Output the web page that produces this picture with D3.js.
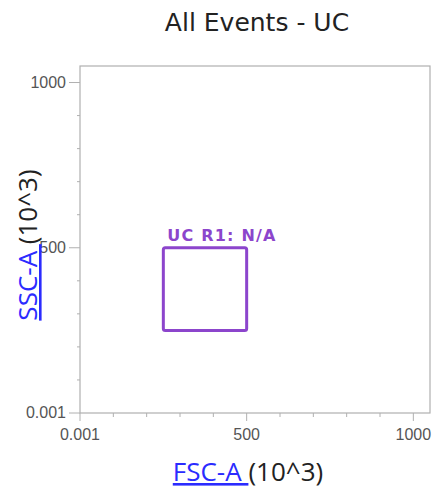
<!DOCTYPE html>
<html><head><meta charset="utf-8">
<script src="https://cdn.jsdelivr.net/npm/d3@7"></script>
<style>body{margin:0;background:#fff}</style>
</head><body>
<script>
const title = "All Events - UC";
const xDomain = [0, 1050];
const yDomain = [0, 1050];
const majorTicks = [0, 500, 1000];
const majorLabels = ["0.001", "500", "1000"];
const minorTicks = [100, 200, 300, 400, 600, 700, 800, 900];
const gateName = "UC R1: N/A";
const gateX = [250, 500];
const gateY = [250, 500];
const xLabel = "FSC-A";
const yLabel = "SSC-A";
const unitLabel = "(10^3)";

const W = 441, H = 497;
const m = {l: 80, r: 11, t: 66, b: 84};
const svg = d3.select("body").append("svg").attr("width", W).attr("height", H);
const x = d3.scaleLinear().domain(xDomain).range([m.l, W - m.r]);
const y = d3.scaleLinear().domain(yDomain).range([H - m.b, m.t]);
const frame = "#b0b0b0";

svg.append("text").attr("x", 257).attr("y", 31).attr("text-anchor", "middle")
  .attr("font-family", "DejaVu Sans, Verdana, sans-serif").attr("font-size", 25).attr("fill", "#222").text(title);

svg.append("rect").attr("x", x(xDomain[0])).attr("y", y(yDomain[1]))
  .attr("width", x(xDomain[1]) - x(xDomain[0])).attr("height", y(yDomain[0]) - y(yDomain[1]))
  .attr("fill", "none").attr("stroke", frame).attr("stroke-width", 1.2);

const xb = y(0);
svg.selectAll(".xmaj").data(majorTicks).enter().append("line")
  .attr("x1", d => x(d)).attr("x2", d => x(d)).attr("y1", xb).attr("y2", xb + 8).attr("stroke", frame);
svg.selectAll(".xmin").data(minorTicks).enter().append("line")
  .attr("x1", d => x(d)).attr("x2", d => x(d)).attr("y1", xb).attr("y2", xb + 4).attr("stroke", frame);
svg.selectAll(".xl").data(majorTicks).enter().append("text")
  .attr("x", d => x(d)).attr("y", xb + 27).attr("text-anchor", "middle")
  .attr("font-family", "Liberation Sans, Arial, sans-serif").attr("font-size", 16).attr("fill", "#555")
  .text((d, i) => majorLabels[i]);

const yb = x(0);
svg.selectAll(".ymaj").data(majorTicks).enter().append("line")
  .attr("y1", d => y(d)).attr("y2", d => y(d)).attr("x1", yb).attr("x2", yb - 11).attr("stroke", frame);
svg.selectAll(".ymin").data(minorTicks).enter().append("line")
  .attr("y1", d => y(d)).attr("y2", d => y(d)).attr("x1", yb).attr("x2", yb - 3).attr("stroke", frame);
svg.selectAll(".yl").data(majorTicks).enter().append("text")
  .attr("x", yb - 14).attr("y", d => y(d) + 5).attr("text-anchor", "end")
  .attr("font-family", "Liberation Sans, Arial, sans-serif").attr("font-size", 16).attr("fill", "#555")
  .text((d, i) => majorLabels[i]);

const gc = "#8c45cc";
svg.append("rect").attr("x", x(gateX[0])).attr("y", y(gateY[1]))
  .attr("width", x(gateX[1]) - x(gateX[0])).attr("height", y(gateY[0]) - y(gateY[1]))
  .attr("rx", 2).attr("fill", "none").attr("stroke", gc).attr("stroke-width", 3);
svg.append("text").attr("x", x(gateX[0]) + 4).attr("y", y(gateY[1]) - 7)
  .attr("font-family", "DejaVu Sans, Verdana, sans-serif").attr("font-weight", "bold").attr("font-size", 16)
  .attr("letter-spacing", 1.2).attr("fill", gc).text(gateName);

const xt = svg.append("text").attr("x", 248).attr("y", 481).attr("text-anchor", "middle")
  .attr("font-family", "Open Sans, sans-serif").attr("font-size", 26);
xt.append("tspan").attr("fill", "#2b2bff").attr("text-decoration", "underline").text(xLabel + "\u00a0");
xt.append("tspan").attr("fill", "#222").text(unitLabel);

const yt = svg.append("text").attr("transform", "translate(37,245) rotate(-90)").attr("text-anchor", "middle")
  .attr("font-family", "Open Sans, sans-serif").attr("font-size", 26);
yt.append("tspan").attr("fill", "#2b2bff").attr("text-decoration", "underline").text(yLabel + "\u00a0");
yt.append("tspan").attr("fill", "#222").text(unitLabel);
</script>
</body></html>
